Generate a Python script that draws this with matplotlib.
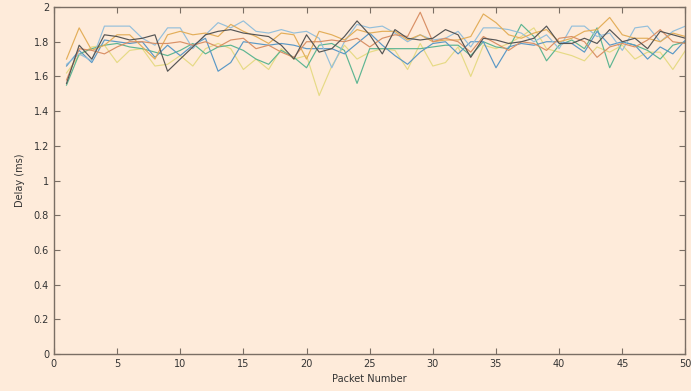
import numpy as np
import matplotlib
matplotlib.use("Agg")
import matplotlib.pyplot as plt

packets = np.arange(1, 51)

black = [1.56,1.78,1.70,1.84,1.83,1.81,1.82,1.84,1.63,1.70,1.77,1.84,1.86,1.87,1.85,1.84,1.83,1.78,1.70,1.84,
         1.74,1.76,1.83,1.92,1.84,1.73,1.87,1.82,1.81,1.82,1.87,1.84,1.71,1.82,1.81,1.79,1.80,1.82,1.89,1.79,
         1.79,1.82,1.79,1.87,1.80,1.82,1.76,1.86,1.84,1.82]
salmon = [1.58,1.76,1.75,1.73,1.77,1.80,1.80,1.79,1.79,1.80,1.78,1.80,1.77,1.81,1.82,1.76,1.78,1.74,1.71,1.80,
          1.80,1.81,1.80,1.82,1.77,1.82,1.84,1.83,1.97,1.80,1.82,1.80,1.74,1.83,1.79,1.75,1.80,1.79,1.75,1.82,
          1.83,1.80,1.71,1.77,1.79,1.77,1.81,1.87,1.80,1.79]
gold = [1.70,1.88,1.75,1.78,1.84,1.84,1.77,1.70,1.84,1.86,1.84,1.85,1.83,1.90,1.86,1.83,1.79,1.85,1.84,1.70,
        1.86,1.84,1.81,1.87,1.85,1.86,1.86,1.81,1.84,1.80,1.81,1.81,1.83,1.96,1.91,1.84,1.82,1.85,1.87,1.80,
        1.82,1.86,1.87,1.94,1.84,1.82,1.82,1.80,1.85,1.83]
lightblue = [1.67,1.73,1.69,1.89,1.89,1.89,1.82,1.78,1.88,1.88,1.76,1.84,1.91,1.88,1.92,1.86,1.85,1.87,1.85,1.86,
             1.82,1.65,1.80,1.90,1.88,1.89,1.85,1.80,1.84,1.81,1.82,1.86,1.77,1.88,1.88,1.87,1.85,1.80,1.84,1.76,
             1.89,1.89,1.83,1.85,1.75,1.88,1.89,1.80,1.86,1.89]
blue = [1.66,1.75,1.68,1.81,1.80,1.79,1.80,1.71,1.78,1.72,1.78,1.82,1.63,1.68,1.80,1.79,1.78,1.79,1.78,1.76,
        1.76,1.76,1.73,1.79,1.85,1.78,1.72,1.67,1.74,1.79,1.80,1.73,1.80,1.80,1.65,1.77,1.79,1.78,1.80,1.80,
        1.79,1.74,1.86,1.78,1.80,1.78,1.70,1.77,1.73,1.81]
teal = [1.55,1.73,1.76,1.78,1.79,1.77,1.76,1.74,1.72,1.75,1.79,1.73,1.77,1.78,1.75,1.70,1.67,1.75,1.71,1.65,
        1.78,1.79,1.75,1.56,1.76,1.76,1.76,1.76,1.76,1.77,1.78,1.78,1.72,1.80,1.77,1.76,1.90,1.83,1.69,1.78,
        1.81,1.76,1.88,1.65,1.80,1.78,1.75,1.70,1.78,1.80]
yellow = [1.62,1.72,1.77,1.78,1.68,1.75,1.76,1.66,1.67,1.72,1.66,1.76,1.79,1.76,1.64,1.70,1.64,1.76,1.70,1.72,
          1.49,1.66,1.78,1.70,1.74,1.76,1.75,1.64,1.79,1.66,1.68,1.77,1.60,1.78,1.76,1.79,1.83,1.88,1.76,1.74,
          1.72,1.69,1.77,1.74,1.78,1.70,1.74,1.74,1.64,1.75]

series = [yellow, teal, blue, lightblue, gold, salmon, black]
colors = ['#E6DA85', '#5DB592', '#5A98C6', '#94BFDA', '#E3AE5A', '#D99066', '#555555']

bg = '#FEEBDA'
edge = '#7a6e64'

fig = plt.figure(figsize=(6.91, 3.91), dpi=100, facecolor=bg)
ax = fig.add_axes([0.078, 0.0946, 0.914, 0.8874], facecolor=bg)

for s, c in zip(series, colors):
    ax.plot(packets, s, color=c, lw=0.85)

ax.set_xlim(0, 50)
ax.set_ylim(0, 2)
ax.set_xticks(np.arange(0, 51, 5))
ax.set_yticks(np.arange(0, 2.01, 0.2))
ax.set_yticklabels(['%g' % round(v, 1) for v in np.arange(0, 2.01, 0.2)])
ax.tick_params(direction='in', top=True, right=True, length=4, width=0.8,
               color=edge, labelsize=7, labelcolor='#333333')
for sp in ax.spines.values():
    sp.set_color(edge)
    sp.set_linewidth(1.0)
ax.set_xlabel('Packet Number', fontsize=7, color='#333333', labelpad=4)
ax.set_ylabel('Delay (ms)', fontsize=7, color='#333333', labelpad=6)

fig.savefig('out.png', dpi=100, facecolor=bg)
